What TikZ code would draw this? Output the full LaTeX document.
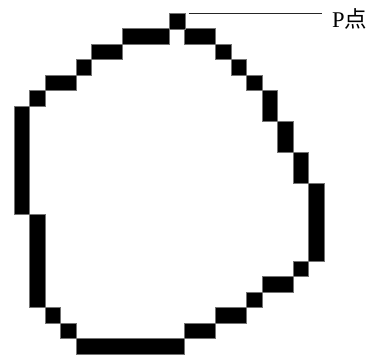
\documentclass[tikz,border=0pt]{standalone}
\usepackage{fontspec}
\setmainfont{Liberation Serif}
\newfontfamily\cjk{Noto Sans CJK SC}
\begin{document}
\begin{tikzpicture}[x=1pt,y=-1pt,
  cell/.style={fill=black,draw=black!55,line width=0.6pt},
  lbl/.style={inner sep=0pt,anchor=base west,font=\fontsize{22.5}{22.5}\selectfont}]
\useasboundingbox (0,0) rectangle (372,359);
\foreach \a/\b/\c/\d in {7/1/9/1,11/1/12/1,5/2/6/2,13/2/13/2,4/3/4/3,14/3/14/3,
  2/4/3/4,15/4/15/4,1/5/1/5,16/5/16/6,0/6/0/12,17/7/17/8,18/9/18/10,19/11/19/15,
  1/13/1/18,18/16/18/16,16/17/17/17,15/18/15/18,2/19/2/19,13/19/14/19,3/20/3/20,
  11/20/12/20,4/21/10/21}
  \draw[cell] ({14+15.5*\a},{13+15.5*\b}) rectangle ({14+15.5*(\c+1)},{13+15.5*(\d+1)});
\node[cell,minimum size=15.5pt,inner sep=0pt,anchor=north west] (P) at (169,13) {};
\node[lbl] (lab) at (332,27) {P{\cjk 点}};
\coordinate (lend) at (322,13);
\draw[line width=0.9pt,black!85] ([xshift=3.5pt]P.north east) -- (lend);
\end{tikzpicture}
\end{document}
